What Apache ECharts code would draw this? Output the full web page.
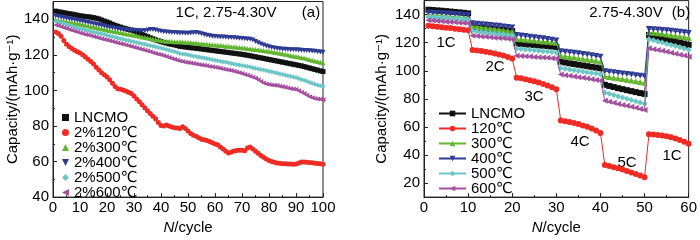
<!DOCTYPE html>
<html>
<head>
<meta charset="utf-8">
<script src="https://cdn.jsdelivr.net/npm/echarts@6/dist/echarts.min.js"></script>
<style>
html,body{margin:0;padding:0;background:#fff;}
#c{width:700px;height:240px;}
</style>
</head>
<body>
<div id="c"></div>
<script>
// ---------- Panel (a): cycling at 1C, cycles 1..100 ----------
const namesA = ['LNCMO', '2%120℃', '2%300℃', '2%400℃', '2%500℃', '2%600℃'];
const a_LNCMO = [
144.6,144.2,144.0,143.7,143.4,143.1,142.9,142.6,142.3,142.0,
141.8,141.5,141.4,141.2,140.9,140.6,140.2,139.6,139.0,138.5,
137.9,137.2,136.6,136.1,135.6,135.1,134.7,134.3,133.9,133.4,
132.8,132.1,131.4,130.8,130.2,129.6,129.0,128.4,127.9,127.4,
127.0,126.6,126.2,125.9,125.6,125.2,124.8,124.6,124.4,124.2,
124.0,123.9,123.7,123.5,123.3,123.1,122.9,122.7,122.5,122.3,
122.1,121.9,121.7,121.5,121.3,121.1,120.9,120.7,120.5,120.3,
120.0,119.8,119.5,119.2,118.9,118.6,118.3,118.0,117.7,117.4,
117.1,116.8,116.5,116.2,115.9,115.6,115.3,115.0,114.7,114.4,
114.1,113.8,113.4,113.0,112.6,112.2,111.8,111.4,111.0,110.6];
const a_120 = [
132.8,132.0,130.5,128.0,126.0,124.5,123.5,122.6,121.8,121.0,
120.0,118.8,117.5,116.2,114.8,113.0,111.5,110.0,108.8,107.6,
106.0,104.0,102.2,101.0,100.6,100.2,99.6,99.0,98.2,96.8,
95.2,93.6,92.0,90.3,88.6,87.0,85.5,84.0,82.0,80.2,
80.0,80.6,80.0,79.4,79.0,78.8,78.6,79.6,78.6,77.2,
75.8,74.8,74.2,73.4,72.6,72.2,71.8,71.2,70.5,69.8,
69.4,68.2,67.0,65.8,64.8,65.4,65.9,66.2,66.4,66.3,
66.0,67.6,68.2,67.0,65.8,64.6,63.4,62.4,61.4,60.6,
60.0,59.6,59.2,59.0,58.8,58.7,58.6,58.6,58.5,58.6,
59.2,59.8,59.7,59.6,59.4,59.3,59.1,58.9,58.7,58.5];
const a_300 = [
139.8,139.5,139.2,138.9,138.6,138.4,138.1,137.9,137.6,137.3,
137.0,136.6,136.3,136.0,135.7,135.4,135.0,134.7,134.4,134.0,
133.7,133.4,133.1,132.8,132.5,132.2,131.9,131.6,131.3,131.0,
130.7,130.4,130.1,129.8,129.5,129.2,128.9,128.6,128.3,128.0,
127.8,127.7,127.6,127.5,127.4,127.3,127.3,127.2,127.1,127.0,
126.9,126.7,126.6,126.4,126.3,126.1,126.0,125.8,125.7,125.5,
125.4,125.2,125.1,124.9,124.8,124.6,124.5,124.3,124.2,124.0,
123.8,123.6,123.4,123.2,123.0,122.8,122.6,122.4,122.2,122.0,
121.7,121.5,121.2,120.9,120.6,120.3,120.0,119.7,119.4,119.1,
118.8,118.5,118.2,117.8,117.4,117.0,116.6,116.2,115.9,115.6];
const a_400 = [
141.8,141.5,141.2,140.9,140.6,140.3,140.0,139.8,139.5,139.2,
138.9,138.5,138.2,137.9,137.5,137.2,136.9,136.5,136.2,135.8,
135.5,135.2,135.0,134.7,134.5,134.3,134.1,134.0,133.9,133.8,
133.7,133.6,133.5,133.6,133.9,134.2,134.3,134.0,133.6,133.2,
133.0,132.9,132.7,132.6,132.5,132.4,132.3,132.3,132.2,132.2,
132.3,132.4,132.5,132.3,131.8,131.4,131.0,130.7,130.5,130.3,
130.2,130.1,130.0,129.9,129.8,129.7,129.6,129.5,129.3,129.2,
129.0,128.9,128.8,128.3,127.5,126.8,126.1,125.5,125.0,124.5,
124.2,123.9,123.6,123.4,123.2,123.1,123.0,122.9,122.9,122.8,
122.7,122.6,122.5,122.4,122.3,122.2,122.0,121.8,121.6,121.4];
const a_500 = [
139.0,138.5,138.0,137.6,137.1,136.6,136.2,135.7,135.3,134.8,
134.4,134.0,133.6,133.3,132.9,132.5,132.1,131.8,131.4,131.0,
130.6,130.3,129.9,129.5,129.1,128.8,128.4,128.0,127.7,127.3,
126.9,126.6,126.2,125.9,125.5,125.2,124.8,124.5,124.1,123.8,
123.4,123.0,122.6,122.2,121.8,121.3,120.8,120.5,120.3,120.0,
119.7,119.4,119.1,118.8,118.5,118.2,117.9,117.6,117.3,117.0,
116.7,116.4,116.1,115.8,115.5,115.2,114.9,114.6,114.3,114.0,
113.7,113.4,113.1,112.8,112.5,112.1,111.8,111.5,111.2,110.8,
110.5,110.1,109.8,109.4,109.0,108.7,108.3,108.0,107.6,107.2,
106.7,106.2,105.7,105.2,104.6,104.0,103.5,103.0,102.6,102.2];
const a_600 = [
136.8,136.3,135.8,135.3,134.8,134.3,133.8,133.3,132.8,132.3,
131.9,131.5,131.1,130.7,130.3,129.9,129.5,129.1,128.7,128.3,
127.9,127.5,127.1,126.7,126.3,125.9,125.5,125.1,124.7,124.3,
123.9,123.4,123.0,122.6,122.1,121.7,121.2,120.8,120.4,120.0,
119.5,119.0,118.5,118.0,117.5,117.0,116.5,116.2,115.9,115.7,
115.4,115.1,114.9,114.6,114.3,114.1,113.8,113.5,113.3,113.0,
112.7,112.4,112.1,111.8,111.5,111.2,110.8,110.4,110.0,109.5,
109.0,108.5,108.0,107.4,106.8,106.0,105.0,104.2,103.6,103.3,
103.1,102.9,102.7,102.4,102.1,101.8,101.4,101.0,100.8,100.5,
99.8,99.0,98.2,97.3,96.5,95.9,95.5,95.2,95.0,94.8];

// ---------- Panel (b): rate capability, cycles 1..60 ----------
const namesB = ['LNCMO', '120℃', '300℃', '400℃', '500℃', '600℃'];
const b_LNCMO = [
143.5,143.3,143.0,142.8,142.5,142.2,141.9,141.6,141.3,140.9,
131.0,130.8,130.5,130.2,129.9,129.6,129.3,129.0,128.6,128.2,
119.5,119.2,118.9,118.7,118.4,118.1,117.9,117.6,117.3,117.0,
106.5,105.9,105.3,104.8,104.3,103.8,103.3,102.8,102.3,101.8,
90.0,89.2,88.4,87.6,86.9,86.2,85.5,84.8,84.1,83.5,
125.5,124.8,124.1,123.4,122.6,121.8,121.0,120.2,119.4,118.5];
const b_120 = [
132.0,131.7,131.4,131.0,130.7,130.4,130.0,129.6,129.2,128.8,
114.8,114.5,114.1,113.6,113.0,112.3,111.6,110.8,109.9,108.8,
95.0,94.6,94.0,93.3,92.5,91.6,90.6,89.5,88.3,86.9,
64.6,64.1,63.5,62.8,62.0,61.1,60.1,58.9,57.5,55.6,
32.8,32.1,31.3,30.5,29.6,28.6,27.6,26.5,25.4,24.2,
54.8,54.6,54.3,53.9,53.3,52.6,51.7,50.6,49.4,48.0];
const b_300 = [
140.0,139.8,139.5,139.3,139.0,138.8,138.5,138.3,138.0,137.8,
132.0,131.6,131.2,130.7,130.3,129.9,129.5,129.0,128.5,128.0,
122.7,122.4,122.1,121.8,121.5,121.2,120.9,120.6,120.3,120.0,
110.7,110.3,109.9,109.5,109.0,108.6,108.1,107.6,107.1,106.5,
96.1,95.6,95.1,94.6,94.1,93.6,93.1,92.6,92.0,91.5,
127.5,127.1,126.7,126.3,125.9,125.4,124.9,124.5,124.0,123.5];
const b_400 = [
141.5,141.3,141.2,141.0,140.8,140.6,140.4,140.2,140.0,139.8,
133.8,133.5,133.2,132.9,132.6,132.3,132.0,131.6,131.2,130.8,
125.5,125.1,124.7,124.3,123.9,123.5,123.1,122.6,122.1,121.5,
113.9,113.6,113.2,112.8,112.4,112.0,111.6,111.1,110.6,110.0,
99.6,99.3,98.9,98.5,98.1,97.7,97.3,96.9,96.5,96.1,
129.8,129.6,129.4,129.1,128.8,128.5,128.2,127.8,127.4,127.0];
const b_500 = [
138.4,138.2,138.0,137.8,137.6,137.4,137.2,137.0,136.8,136.5,
128.5,128.1,127.7,127.3,126.9,126.5,126.2,125.8,125.4,125.0,
115.8,115.5,115.2,114.9,114.6,114.3,114.0,113.7,113.4,113.0,
101.9,101.4,100.9,100.4,99.9,99.5,99.0,98.5,98.0,97.5,
84.6,83.7,82.8,81.9,81.0,80.1,79.2,78.3,77.4,76.5,
122.5,121.7,120.9,120.1,119.2,118.4,117.6,116.8,115.9,115.0];
const b_600 = [
136.0,135.8,135.5,135.3,135.0,134.8,134.5,134.3,134.0,133.8,
125.0,124.7,124.5,124.2,123.9,123.6,123.4,123.1,122.8,122.5,
110.7,110.5,110.3,110.1,109.9,109.7,109.5,109.3,109.0,108.8,
97.3,96.8,96.4,95.9,95.4,95.0,94.5,94.0,93.5,93.0,
78.6,77.9,77.2,76.4,75.7,75.0,74.3,73.6,72.8,72.0,
116.0,115.4,114.8,114.2,113.5,112.8,112.2,111.5,110.8,110.0];

const rateLabels = ['1C', '2C', '3C', '4C', '5C', '1C'];
const titleA = '1C, 2.75-4.30V';
const titleB = '2.75-4.30V';

// ---------- styling ----------
const FONT = '"Liberation Sans", Arial, "DejaVu Sans", sans-serif';
const colors = ['#111111', '#ee2b24', '#62b52f', '#2e3b93', '#6cc6c6', '#a54f9f'];
const symbols = ['rect', 'circle', 'triangle', 'triangle', 'diamond', 'triangle'];
const rotations = [0, 0, 0, 180, 0, 90];
const legendIconsA = ['rect', 'circle', 'triangle', 'path://M0,0L10,0L5,10Z', 'diamond', 'path://M10,0L10,10L0,5Z'];

const seriesA = [a_LNCMO, a_120, a_300, a_400, a_500, a_600];
const seriesB = [b_LNCMO, b_120, b_300, b_400, b_500, b_600];

function toXY(arr) { return arr.map((v, i) => [i + 1, v]); }

function axisX(gridIndex, max) {
  return {
    type: 'value', gridIndex, min: 0, max, interval: 10,
    name: '{i|N}/cycle', nameLocation: 'middle', nameGap: 20,
    nameTextStyle: { fontFamily: FONT, fontSize: 15, color: '#000',
      rich: { i: { fontStyle: 'italic', fontFamily: FONT, fontSize: 15, color: '#000' } } },
    axisLine: { show: true, lineStyle: { color: '#222', width: 1 } },
    axisTick: { show: true, inside: true, length: 4, lineStyle: { color: '#222' } },
    minorTick: { show: true, splitNumber: 2, length: 2, lineStyle: { color: '#222' } },
    splitLine: { show: false },
    axisLabel: { fontFamily: FONT, fontSize: 15, color: '#000', margin: 3 }
  };
}
function axisY(gridIndex, opts) {
  return Object.assign({
    type: 'value', gridIndex,
    name: 'Capacity/(mAh·g⁻¹)', nameLocation: 'middle',
    nameTextStyle: { fontFamily: FONT, fontSize: 15, color: '#000' },
    axisLine: { show: true, lineStyle: { color: '#222', width: 1 } },
    axisTick: { show: true, inside: true, length: 4, lineStyle: { color: '#222' } },
    minorTick: { show: true, splitNumber: 2, length: 2, lineStyle: { color: '#222' } },
    splitLine: { show: false },
    axisLabel: { fontFamily: FONT, fontSize: 15, color: '#000', margin: 4, showMaxLabel: false }
  }, opts);
}

const series = [];
seriesA.forEach((d, k) => {
  series.push({
    type: 'line', name: namesA[k], xAxisIndex: 0, yAxisIndex: 0,
    data: toXY(d), symbol: symbols[k], symbolRotate: rotations[k], symbolSize: 5,
    showAllSymbol: true, color: colors[k],
    lineStyle: { width: 1, color: colors[k] }, itemStyle: { color: colors[k] },
    animation: false, z: 2 + k
  });
});
seriesB.forEach((d, k) => {
  series.push({
    type: 'line', name: namesB[k] + ' ', xAxisIndex: 1, yAxisIndex: 1,
    data: toXY(d), symbol: symbols[k], symbolRotate: rotations[k], symbolSize: 6,
    showAllSymbol: true, color: colors[k],
    lineStyle: { width: 1, color: colors[k] }, itemStyle: { color: colors[k] },
    animation: false, z: 2 + k
  });
});

const rateLabelPos = [[446, 43], [495, 67], [534, 97], [580, 142], [627, 163], [672, 156]];
const graphic = [
  { type: 'text', style: { text: titleA, x: 226, y: 13, align: 'center', verticalAlign: 'middle', font: '15px ' + FONT, fill: '#000' } },
  { type: 'text', style: { text: '(a)', x: 311, y: 13, align: 'center', verticalAlign: 'middle', font: '15px ' + FONT, fill: '#000' } },
  { type: 'text', style: { text: titleB, x: 626, y: 13, align: 'center', verticalAlign: 'middle', font: '15px ' + FONT, fill: '#000' } },
  { type: 'text', style: { text: '(b)', x: 681, y: 13, align: 'center', verticalAlign: 'middle', font: '15px ' + FONT, fill: '#000' } }
];
rateLabels.forEach((t, i) => {
  graphic.push({ type: 'text', style: { text: t, x: rateLabelPos[i][0], y: rateLabelPos[i][1],
    align: 'center', verticalAlign: 'middle', font: '15px ' + FONT, fill: '#000' } });
});

const chart = echarts.init(document.getElementById('c'), null, { renderer: 'canvas' });
chart.setOption({
  animation: false,
  backgroundColor: '#fff',
  grid: [
    { left: 53, top: 1.5, width: 270, height: 203.5, show: true, borderColor: '#222', borderWidth: 1, backgroundColor: 'transparent' },
    { left: 424, top: 0.6, width: 269, height: 202.2, show: true, borderColor: '#222', borderWidth: 1, backgroundColor: 'transparent' }
  ],
  xAxis: [axisX(0, 100), axisX(1, 60)],
  yAxis: [
    axisY(0, { min: 40, max: 150, interval: 20, nameGap: 33 }),
    axisY(1, { min: 10, max: 150, splitNumber: 7, nameGap: 35,
      axisLabel: { fontFamily: FONT, fontSize: 15, color: '#000', margin: 4, showMaxLabel: false, showMinLabel: false,
        formatter: v => (v % 20 === 0 && v >= 20 && v <= 140) ? String(v) : '' } })
  ],
  legend: [
    {
      orient: 'vertical', left: 57, top: 105, itemGap: 0, itemWidth: 7, itemHeight: 7,
      textStyle: { fontFamily: FONT, fontSize: 15, color: '#000', lineHeight: 14.7 },
      data: namesA.map((n, k) => ({ name: n, icon: legendIconsA[k] })),
      selectedMode: false
    },
    {
      orient: 'vertical', left: 433, top: 101, itemGap: 0, itemWidth: 27, itemHeight: 7,
      textStyle: { fontFamily: FONT, fontSize: 15, color: '#000', lineHeight: 14 },
      data: namesB.map(n => n + ' '),
      formatter: n => n.trim(),
      selectedMode: false
    }
  ],
  graphic,
  series
});
</script>
</body>
</html>
